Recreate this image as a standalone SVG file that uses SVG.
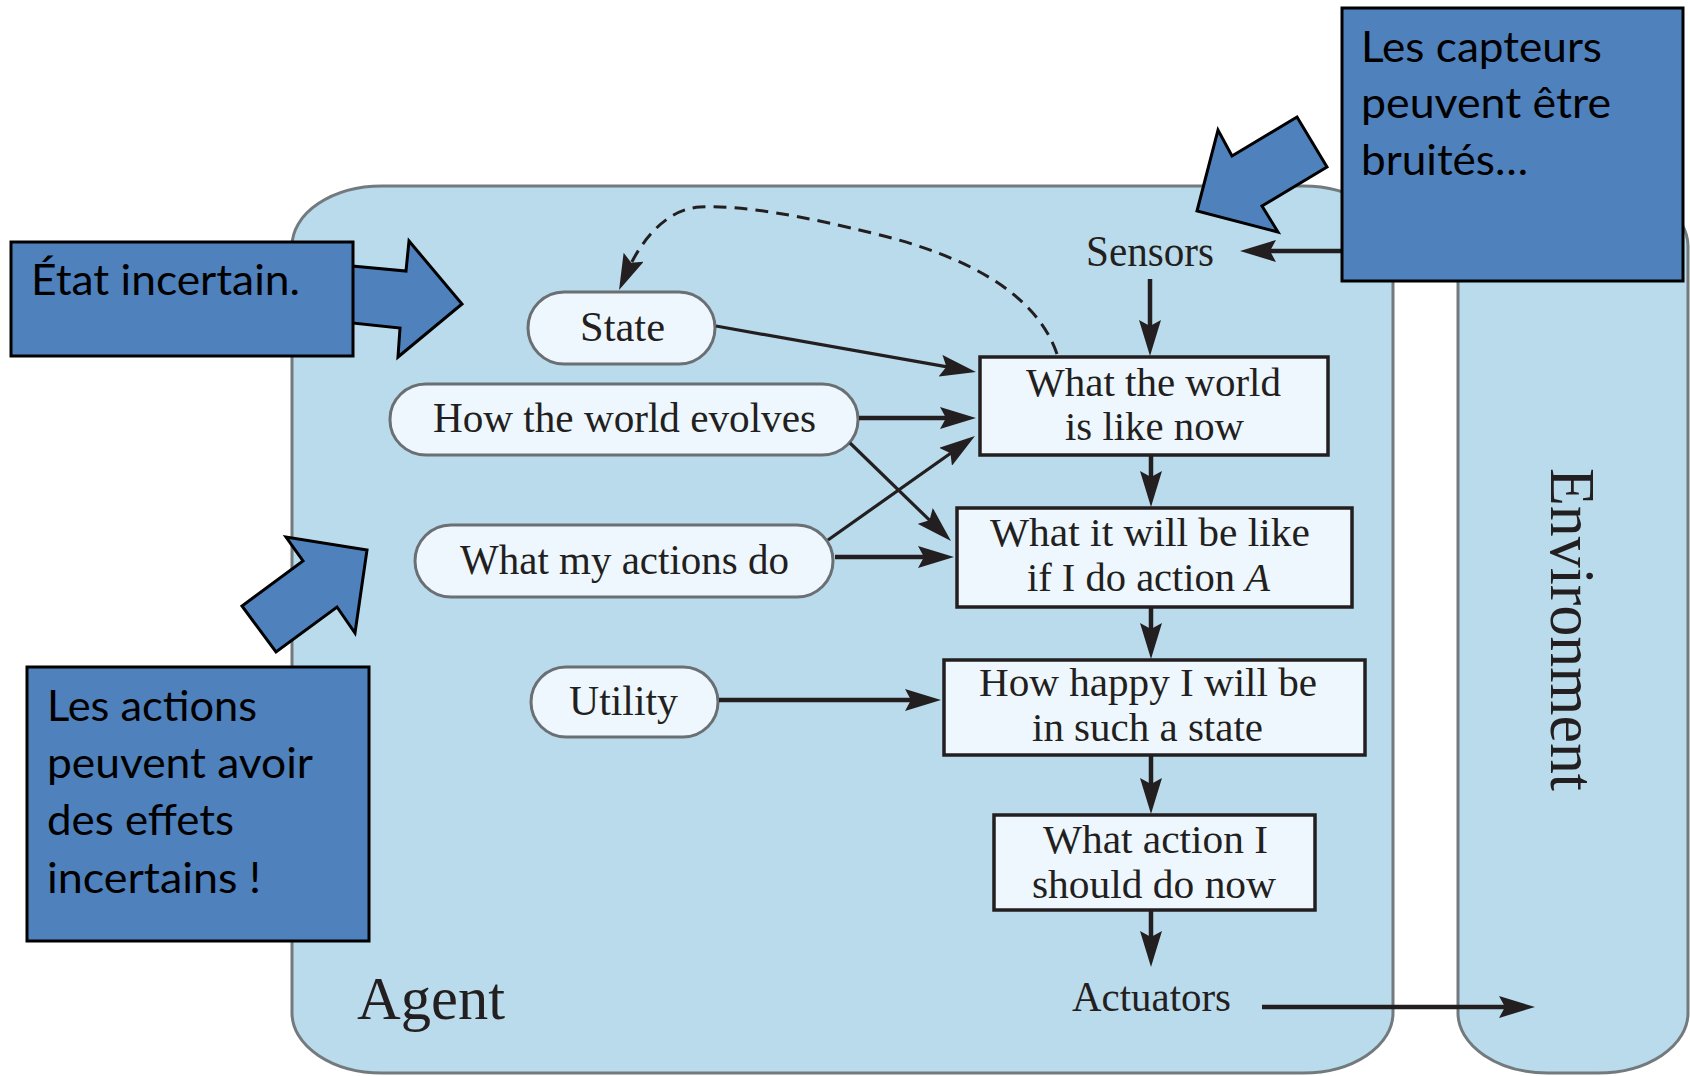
<svg xmlns="http://www.w3.org/2000/svg" width="1690" height="1076" viewBox="0 0 1690 1076">
<defs>
<style>
.panel{fill:#badbeb;stroke:#737a7e;stroke-width:3}
.pill{fill:#eef7fd;stroke:#6a6f73;stroke-width:3}
.box{fill:#eef7fd;stroke:#231f20;stroke-width:3.5}
.serif{font-family:"Liberation Serif","Times New Roman",serif;fill:#231f20}
.t42{font-size:42px}
.t39{font-size:39px}
.call{fill:#4f81bd;stroke:#000;stroke-width:3;stroke-linejoin:miter}
.ctext{font-family:Lato,"Open Sans",sans-serif;font-size:43px;fill:#000}
.edge{fill:none;stroke:#231f20;stroke-width:4.5}
.thin{stroke-width:3.2}
.dash{fill:none;stroke:#231f20;stroke-width:3;stroke-dasharray:13 8}
</style>
<marker id="ah" viewBox="0 0 36 22" refX="14" refY="11" markerWidth="36" markerHeight="22" markerUnits="userSpaceOnUse" orient="auto">
<path d="M0,0 L36,11 L0,22 L6,11 Z" fill="#231f20" stroke="none"/>
</marker>
</defs>
<rect width="1690" height="1076" fill="#fff"/>

<g id="agent">
<rect class="panel" x="292" y="186" width="1101" height="887" rx="90" ry="60"/>
<text class="serif" x="357" y="1019" font-size="62" textLength="148" lengthAdjust="spacingAndGlyphs">Agent</text>
</g>
<g id="environment">
<rect class="panel" x="1458" y="186" width="230" height="887" rx="90" ry="60"/>
<text class="serif" transform="translate(1551,468) rotate(90)" x="0" y="0" font-size="64" textLength="323" lengthAdjust="spacingAndGlyphs">Environment</text>
</g>

<g id="sensors"><text class="serif" x="1086" y="266" font-size="44" textLength="128" lengthAdjust="spacingAndGlyphs">Sensors</text></g>
<g id="actuators"><text class="serif" x="1072" y="1011" font-size="42" textLength="159" lengthAdjust="spacingAndGlyphs">Actuators</text></g>

<g id="state">
<rect class="pill" x="528" y="292" width="187" height="72" rx="36" ry="36"/>
<text class="serif t42" x="580" y="341" textLength="85" lengthAdjust="spacingAndGlyphs">State</text>
</g>
<g id="evolves">
<rect class="pill" x="390" y="384" width="468" height="71" rx="36" ry="35"/>
<text class="serif t42" x="433" y="432" textLength="383" lengthAdjust="spacingAndGlyphs">How the world evolves</text>
</g>
<g id="actions">
<rect class="pill" x="415" y="525" width="418" height="72" rx="36" ry="36"/>
<text class="serif t42" x="460" y="574" textLength="329" lengthAdjust="spacingAndGlyphs">What my actions do</text>
</g>
<g id="utility">
<rect class="pill" x="531" y="667" width="187" height="70" rx="35" ry="35"/>
<text class="serif t42" x="569" y="715" textLength="109" lengthAdjust="spacingAndGlyphs">Utility</text>
</g>

<g id="world-now">
<rect class="box" x="980" y="357" width="348" height="98"/>
<text class="serif t39" x="1026" y="396" textLength="255" lengthAdjust="spacingAndGlyphs">What the world</text>
<text class="serif t39" x="1065" y="440" textLength="179" lengthAdjust="spacingAndGlyphs">is like now</text>
</g>
<g id="will-be">
<rect class="box" x="957" y="508" width="395" height="99"/>
<text class="serif t39" x="990" y="546" textLength="320" lengthAdjust="spacingAndGlyphs">What it will be like</text>
<text class="serif t39" x="1027" y="591" textLength="243" lengthAdjust="spacingAndGlyphs">if I do action <tspan font-style="italic">A</tspan></text>
</g>
<g id="happy">
<rect class="box" x="944" y="660" width="421" height="95"/>
<text class="serif t39" x="979" y="696" textLength="338" lengthAdjust="spacingAndGlyphs">How happy I will be</text>
<text class="serif t39" x="1032" y="741" textLength="231" lengthAdjust="spacingAndGlyphs">in such a state</text>
</g>
<g id="what-action">
<rect class="box" x="994" y="815" width="321" height="95"/>
<text class="serif t39" x="1043" y="853" textLength="225" lengthAdjust="spacingAndGlyphs">What action I</text>
<text class="serif t39" x="1032" y="898" textLength="244" lengthAdjust="spacingAndGlyphs">should do now</text>
</g>

<g id="connectors">
<path class="edge thin" d="M716,326 L954.3,368.2" marker-end="url(#ah)"/>
<path class="edge" d="M859,418 L954,418" marker-end="url(#ah)"/>
<path class="edge thin" d="M850,443 L935.2,525.7" marker-end="url(#ah)"/>
<path class="edge thin" d="M828,540 L957,448.7" marker-end="url(#ah)"/>
<path class="edge" d="M835,557 L932,557" marker-end="url(#ah)"/>
<path class="edge" d="M719,700 L919,700" marker-end="url(#ah)"/>
<path class="edge" d="M1342,251 L1262,251" marker-end="url(#ah)"/>
<path class="edge" d="M1150,279 L1150,334" marker-end="url(#ah)"/>
<path class="edge" d="M1151,455 L1151,485" marker-end="url(#ah)"/>
<path class="edge" d="M1151,607 L1151,637" marker-end="url(#ah)"/>
<path class="edge" d="M1151,755 L1151,792" marker-end="url(#ah)"/>
<path class="edge" d="M1151,910 L1151,945" marker-end="url(#ah)"/>
<path class="edge" d="M1262,1007 L1513,1007" marker-end="url(#ah)"/>
<path class="dash" d="M1057,354 C1035,290 960,255 880,235 C800,215 740,205 700,207 C665,209 640,243 628,270" marker-end="url(#ah)"/>
</g>

<g id="callout-etat">
<path class="call" d="M352,266 L406,271 L409,241 L462,304 L398,357 L400,328 L352,323 Z"/>
<rect class="call" x="11" y="242" width="342" height="114"/>
<text class="ctext" x="31" y="295" textLength="269" lengthAdjust="spacingAndGlyphs">État incertain.</text>
</g>
<g id="callout-capteurs">
<path class="call" d="M1197,211 L1218,130 L1232,156 L1297,117 L1327,167 L1262,206 L1278,232 Z"/>
<rect class="call" x="1342" y="8" width="341" height="273"/>
<text class="ctext" x="1361" y="62" textLength="241" lengthAdjust="spacingAndGlyphs">Les capteurs</text>
<text class="ctext" x="1361" y="118" textLength="250" lengthAdjust="spacingAndGlyphs">peuvent être</text>
<text class="ctext" x="1361" y="175" textLength="167" lengthAdjust="spacingAndGlyphs">bruités…</text>
</g>
<g id="callout-actions">
<path class="call" d="M367,550 L286,537 L303,561 L242,606 L276,652 L337,607 L355,633 Z"/>
<rect class="call" x="27" y="667" width="342" height="274"/>
<text class="ctext" x="47" y="721" textLength="210" lengthAdjust="spacingAndGlyphs">Les actions</text>
<text class="ctext" x="47" y="778" textLength="266" lengthAdjust="spacingAndGlyphs">peuvent avoir</text>
<text class="ctext" x="47" y="835" textLength="187" lengthAdjust="spacingAndGlyphs">des effets</text>
<text class="ctext" x="47" y="893" textLength="214" lengthAdjust="spacingAndGlyphs">incertains !</text>
</g>
</svg>
